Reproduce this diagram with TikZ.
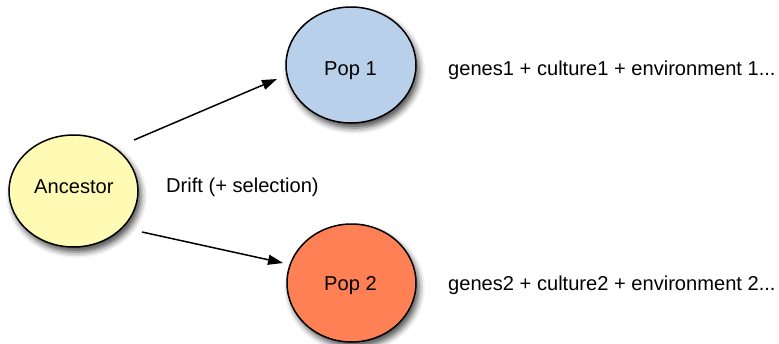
\documentclass[tikz,border=0pt]{standalone}
\usepackage{fontspec}
\setmainfont{Liberation Sans}
\usetikzlibrary{shapes.geometric,arrows.meta,shadows.blur}
\definecolor{ancfill}{RGB}{255,251,180}
\definecolor{pop1fill}{RGB}{185,208,235}
\definecolor{pop2fill}{RGB}{255,128,85}
\begin{document}
\begin{tikzpicture}[x=1pt,y=-1pt,
  font=\fontsize{20.1}{24}\selectfont,
  popnode/.style={ellipse, draw, line width=1.5pt, inner sep=0pt,
    blur shadow={shadow xshift=3pt, shadow yshift=-5pt, shadow blur radius=6pt, shadow opacity=70}},
  arr/.style={line width=1.5pt, -{Triangle[length=15pt,width=10pt]}},
  txt/.style={anchor=base west, inner sep=0pt}]
\useasboundingbox (0,0) rectangle (779,343);
\node[popnode, fill=ancfill, minimum width=129pt, minimum height=112pt] (anc) at (73.5,191) {};
\node[popnode, fill=pop1fill, minimum width=130pt, minimum height=116pt] (pop1) at (351,65) {};
\node[popnode, fill=pop2fill, minimum width=129pt, minimum height=118pt] (pop2) at (351.5,283) {};
\node[txt] (ancl) at (34,193) {Ancestor};
\node[txt] (pop1l) at (324,75) {Pop 1};
\node[txt] (pop2l) at (324,290) {Pop 2};
\node[txt] (drift) at (166,192) {Drift (+ selection)};
\node[txt] (t1) at (448,75) {genes1 + culture1 + environment 1...};
\node[txt] (t2) at (448,290) {genes2 + culture2 + environment 2...};
\coordinate (a1s) at (134,140);
\coordinate (a1e) at (277,79);
\coordinate (a2s) at (142,232);
\coordinate (a2e) at (283,263);
\draw[arr] (a1s) -- (a1e);
\draw[arr] (a2s) -- (a2e);
\end{tikzpicture}
\end{document}
